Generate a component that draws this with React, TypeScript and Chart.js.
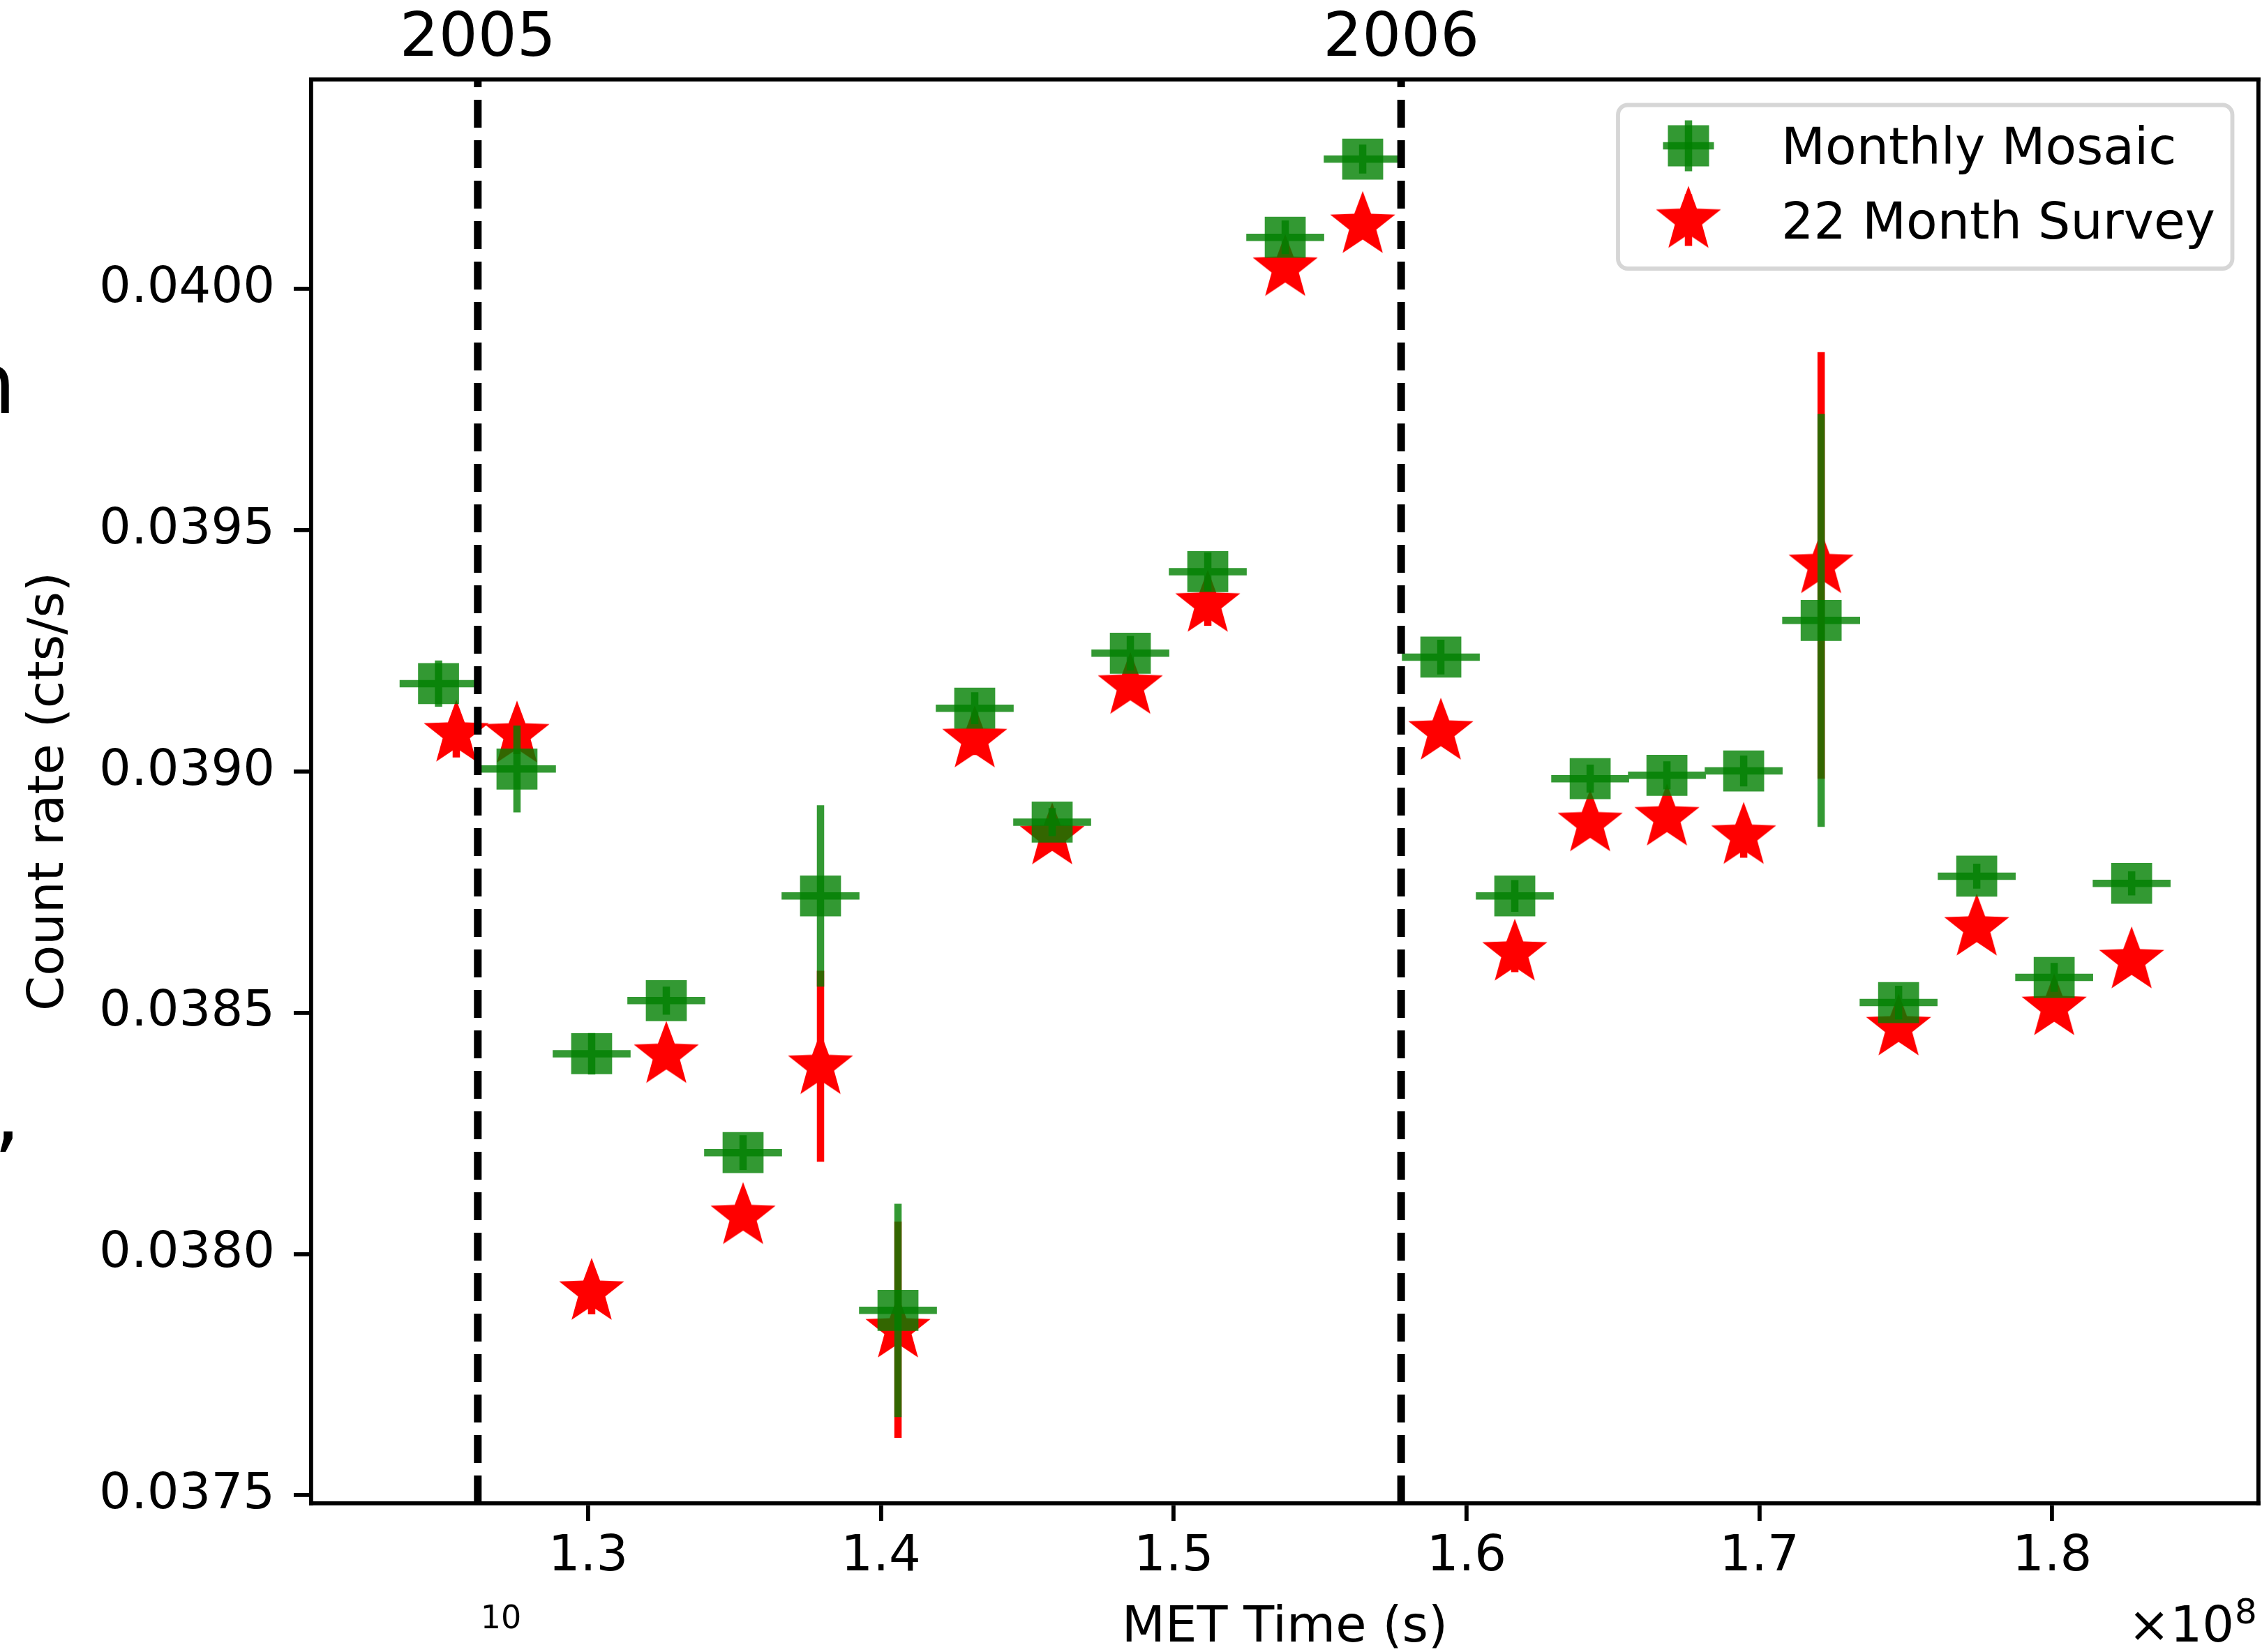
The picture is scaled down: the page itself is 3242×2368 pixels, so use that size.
import React, { useEffect, useRef } from 'react';
import { Chart, registerables } from 'chart.js';

Chart.register(...registerables);

// ---------- data ----------
const X_TICKS = [1.3e8, 1.4e8, 1.5e8, 1.6e8, 1.7e8, 1.8e8];
const Y_TICKS = [0.0375, 0.038, 0.0385, 0.039, 0.0395, 0.04];
const X_MIN = 1.2054e8;
const X_MAX = 1.8705e8;
const Y_MIN = 0.037483;
const Y_MAX = 0.040434;

const YEAR_MET = [126230400, 157766400];
const YEAR_LABELS = ['2005', '2006'];

const SERIES_LABELS = ['Monthly Mosaic', '22 Month Survey'];

const MOSAIC_TIME = [
  124890000, 127569000, 130119000, 132669000, 135291000, 137936000, 140582000, 143203000,
  145848000, 148518000, 151163000, 153808000, 156454000, 159123000, 161649000, 164223000,
  166845000, 169466000, 172112000, 174757000, 177426000, 180071000, 182717000,
];
const MOSAIC_TIME_ERR = [
  1330000, 1330000, 1330000, 1330000, 1330000, 1330000, 1330000, 1330000,
  1330000, 1330000, 1330000, 1330000, 1330000, 1330000, 1330000, 1330000,
  1330000, 1330000, 1330000, 1330000, 1330000, 1330000, 1330000,
];
const MOSAIC_RATE = [
  0.039182, 0.039005, 0.038415, 0.038525, 0.03821, 0.038742, 0.037883, 0.039131,
  0.038895, 0.039245, 0.039414, 0.040107, 0.040269, 0.039237, 0.038742, 0.038985,
  0.038992, 0.039001, 0.039313, 0.038521, 0.038783, 0.038573, 0.038768,
];
const MOSAIC_RATE_ERR = [
  0.000048, 0.00009, 0.000043, 0.000029, 0.000036, 0.000188, 0.000221, 0.000033,
  0.000029, 0.000036, 0.00004, 0.000035, 0.00003, 0.000036, 0.000033, 0.000029,
  0.000029, 0.000032, 0.000428, 0.000035, 0.000026, 0.00003, 0.000025,
];

const SURVEY_TIME = [
  125496000, 127569000, 130119000, 132669000, 135291000, 137936000, 140582000, 143203000,
  145848000, 148518000, 151163000, 153808000, 156454000, 159123000, 161649000, 164223000,
  166845000, 169466000, 172112000, 174757000, 177426000, 180071000, 182717000,
];
const SURVEY_RATE = [
  0.039078, 0.039076, 0.037921, 0.038412, 0.038078, 0.038389, 0.037843, 0.039066,
  0.038865, 0.039177, 0.039347, 0.040043, 0.040132, 0.039082, 0.038624, 0.038892,
  0.038904, 0.038866, 0.039427, 0.038469, 0.038676, 0.038511, 0.038608,
];
const SURVEY_RATE_ERR = [
  0.000049, 0.00004, 0.000046, 0.000029, 0.000029, 0.000198, 0.000224, 0.000032,
  0.000029, 0.000029, 0.000045, 0.000029, 0.000029, 0.000029, 0.00004, 0.000029,
  0.000029, 0.000045, 0.000442, 0.000029, 0.000029, 0.000029, 0.000029,
];

// ---------- styling ----------
const FONT = "'DejaVu Sans', 'Liberation Sans', sans-serif";
const GREEN = 'rgba(0,128,0,0.8)';
const RED = '#ff0000';
const W = 3242;
const H = 2368;

function makeStar(R: number, r: number, color: string): HTMLCanvasElement {
  const size = 102;
  const c = document.createElement('canvas');
  c.width = size;
  c.height = size;
  const g = c.getContext('2d')!;
  const cx = size / 2;
  const cy = size / 2;
  g.beginPath();
  for (let k = 0; k < 10; k++) {
    const a = -Math.PI / 2 + (k * Math.PI) / 5;
    const rad = k % 2 === 0 ? R : r;
    const px = cx + rad * Math.cos(a);
    const py = cy + rad * Math.sin(a);
    if (k === 0) g.moveTo(px, py);
    else g.lineTo(px, py);
  }
  g.closePath();
  g.fillStyle = color;
  g.fill();
  return c;
}

function errSegments(xs: number[], ys: number[], dx: number[] | null, dy: number[]) {
  const out: { x: number; y: number | null }[] = [];
  xs.forEach((x, i) => {
    if (dx) {
      out.push({ x: x - dx[i], y: ys[i] }, { x: x + dx[i], y: ys[i] }, { x, y: null });
    }
    out.push({ x, y: ys[i] - dy[i] }, { x, y: ys[i] + dy[i] }, { x, y: null });
  });
  return out;
}

export default function App() {
  const ref = useRef<HTMLCanvasElement | null>(null);

  useEffect(() => {
    document.body.style.margin = '0';
    document.body.style.overflow = 'hidden';
    const canvas = ref.current;
    if (!canvas) return;

    Chart.defaults.font.family = FONT;
    Chart.defaults.color = '#000';

    const star = makeStar(49, 20.5, RED);

    const decor = {
      id: 'decor',
      afterDraw(chart: any) {
        const ctx = chart.ctx as CanvasRenderingContext2D;
        ctx.save();
        // legend frame
        ctx.beginPath();
        (ctx as any).roundRect(2319, 150.5, 880.5, 234.5, 14);
        ctx.fillStyle = 'rgba(255,255,255,0.8)';
        ctx.fill();
        ctx.lineWidth = 5.8;
        ctx.strokeStyle = 'rgba(204,204,204,0.8)';
        ctx.stroke();
        // legend handles
        const hx = 2420;
        const gy = 209;
        ctx.fillStyle = GREEN;
        ctx.fillRect(hx - 29.5, gy - 29.5, 59, 59);
        ctx.fillRect(hx - 5.25, gy - 36.5, 10.5, 73);
        ctx.fillRect(hx - 36.5, gy - 5.25, 73, 10.5);
        const ry = 315.5;
        ctx.fillStyle = RED;
        ctx.fillRect(hx - 5.25, ry - 37, 10.5, 74);
        ctx.drawImage(star, hx - 51, ry - 51);
        // legend labels
        ctx.fillStyle = '#000';
        ctx.textBaseline = 'alphabetic';
        ctx.textAlign = 'left';
        ctx.font = `73px ${FONT}`;
        ctx.fillText(chart.data.datasets[2].label, 2553, 235);
        ctx.fillText(chart.data.datasets[4].label, 2553, 342);
        // offset text x10^8
        ctx.font = `72px ${FONT}`;
        ctx.textAlign = 'right';
        ctx.fillText('\u00d710', 3202, 2353);
        ctx.textAlign = 'left';
        ctx.font = `50px ${FONT}`;
        ctx.fillText('8', 3203, 2327);
        // stray text fragments from the page
        ctx.font = `46px ${FONT}`;
        ctx.textAlign = 'center';
        ctx.fillText('10', 718, 2334);
        ctx.font = `122px ${FONT}`;
        ctx.textAlign = 'right';
        ctx.fillText('n', 23, 592);
        ctx.textAlign = 'left';
        ctx.fillText(',', -9, 1637);
        ctx.restore();
      },
    };

    const tickGrid = {
      display: true,
      drawOnChartArea: false,
      drawTicks: true,
      tickLength: 25,
      tickWidth: 5.8,
      tickColor: '#000',
      lineWidth: 5.8,
      color: '#000',
    };
    const border = { display: true, color: '#000', width: 5.8 };

    const chart = new Chart(canvas, {
      type: 'scatter',
      data: {
        datasets: [
          {
            label: 'year2005',
            data: [
              { x: YEAR_MET[0], y: Y_MIN },
              { x: YEAR_MET[0], y: Y_MAX },
            ],
            showLine: true,
            borderColor: '#000',
            borderWidth: 11,
            borderDash: [40, 18],
            pointRadius: 0,
            xAxisID: 'x',
            yAxisID: 'y',
          },
          {
            label: 'year2006',
            data: [
              { x: YEAR_MET[1], y: Y_MIN },
              { x: YEAR_MET[1], y: Y_MAX },
            ],
            showLine: true,
            borderColor: '#000',
            borderWidth: 11,
            borderDash: [40, 18],
            pointRadius: 0,
            xAxisID: 'x',
            yAxisID: 'y',
          },
          {
            label: SERIES_LABELS[0],
            data: MOSAIC_TIME.map((x, i) => ({ x, y: MOSAIC_RATE[i] })),
            pointStyle: 'rect',
            pointRadius: 41.5,
            pointBackgroundColor: GREEN,
            pointBorderWidth: 0,
            xAxisID: 'x',
            yAxisID: 'y',
          },
          {
            label: 'mosaicErr',
            data: errSegments(MOSAIC_TIME, MOSAIC_RATE, MOSAIC_TIME_ERR, MOSAIC_RATE_ERR),
            showLine: true,
            spanGaps: false,
            borderColor: GREEN,
            borderWidth: 10.5,
            pointRadius: 0,
            xAxisID: 'x',
            yAxisID: 'y',
          },
          {
            label: SERIES_LABELS[1],
            data: SURVEY_TIME.map((x, i) => ({ x, y: SURVEY_RATE[i] })),
            pointStyle: star as any,
            pointRadius: 45,
            pointBackgroundColor: RED,
            pointBorderWidth: 0,
            xAxisID: 'x',
            yAxisID: 'y',
          },
          {
            label: 'surveyErr',
            data: errSegments(SURVEY_TIME, SURVEY_RATE, null, SURVEY_RATE_ERR),
            showLine: true,
            spanGaps: false,
            borderColor: RED,
            borderWidth: 10.5,
            pointRadius: 0,
            xAxisID: 'x',
            yAxisID: 'y',
          },
        ],
      },
      options: {
        animation: false,
        responsive: false,
        devicePixelRatio: 1,
        events: [],
        layout: { padding: { left: 0, right: 5, top: 0, bottom: 0 }, autoPadding: false },
        plugins: {
          legend: { display: false },
          tooltip: { enabled: false },
        },
        scales: {
          x: {
            type: 'linear',
            position: 'bottom',
            min: X_MIN,
            max: X_MAX,
            afterBuildTicks: (s: any) => {
              s.ticks = X_TICKS.map((v) => ({ value: v }));
            },
            ticks: {
              callback: (v: any) => (Number(v) / 1e8).toFixed(1),
              font: { size: 72 },
              padding: 9,
              maxRotation: 0,
              autoSkip: false,
              color: '#000',
            },
            grid: tickGrid,
            border,
            title: {
              display: true,
              text: 'MET Time (s)',
              color: '#000',
              font: { size: 72, lineHeight: 0.8 },
              padding: { top: 0, bottom: 4.6 },
            },
            afterFit: (s: any) => {
              s.height = 213;
            },
          },
          xTop: {
            type: 'linear',
            position: 'top',
            min: X_MIN,
            max: X_MAX,
            afterBuildTicks: (s: any) => {
              s.ticks = YEAR_MET.map((v) => ({ value: v }));
            },
            ticks: {
              callback: (_v: any, i: number) => YEAR_LABELS[i],
              font: { size: 88 },
              padding: 3.6,
              maxRotation: 0,
              autoSkip: false,
              color: '#000',
            },
            grid: { display: true, drawOnChartArea: false, drawTicks: false, lineWidth: 5.8, color: '#000' },
            border,
            afterFit: (s: any) => {
              s.height = 114;
            },
          },
          y: {
            type: 'linear',
            position: 'left',
            min: Y_MIN,
            max: Y_MAX,
            afterBuildTicks: (s: any) => {
              s.ticks = Y_TICKS.map((v) => ({ value: v }));
            },
            ticks: {
              callback: (v: any) => Number(v).toFixed(4),
              font: { size: 72 },
              padding: 27,
              autoSkip: false,
              color: '#000',
            },
            grid: tickGrid,
            border,
            title: {
              display: true,
              text: 'Count rate (cts/s)',
              color: '#000',
              font: { size: 72, lineHeight: 0.8 },
              padding: { top: 42, bottom: 0 },
            },
            afterFit: (s: any) => {
              s.width = 446;
            },
          },
          yRight: {
            type: 'linear',
            position: 'right',
            min: Y_MIN,
            max: Y_MAX,
            ticks: { display: false },
            grid: { display: true, drawOnChartArea: false, drawTicks: false, lineWidth: 5.8, color: '#000' },
            border,
            afterFit: (s: any) => {
              s.width = 0;
            },
          },
        },
      } as any,
      plugins: [decor],
    });

    return () => chart.destroy();
  }, []);

  return (
    <div style={{ position: 'absolute', left: 0, top: 0, width: W, height: H, background: '#fff', overflow: 'hidden' }}>
      <canvas ref={ref} width={W} height={H} style={{ display: 'block', width: W, height: H }} />
    </div>
  );
}
